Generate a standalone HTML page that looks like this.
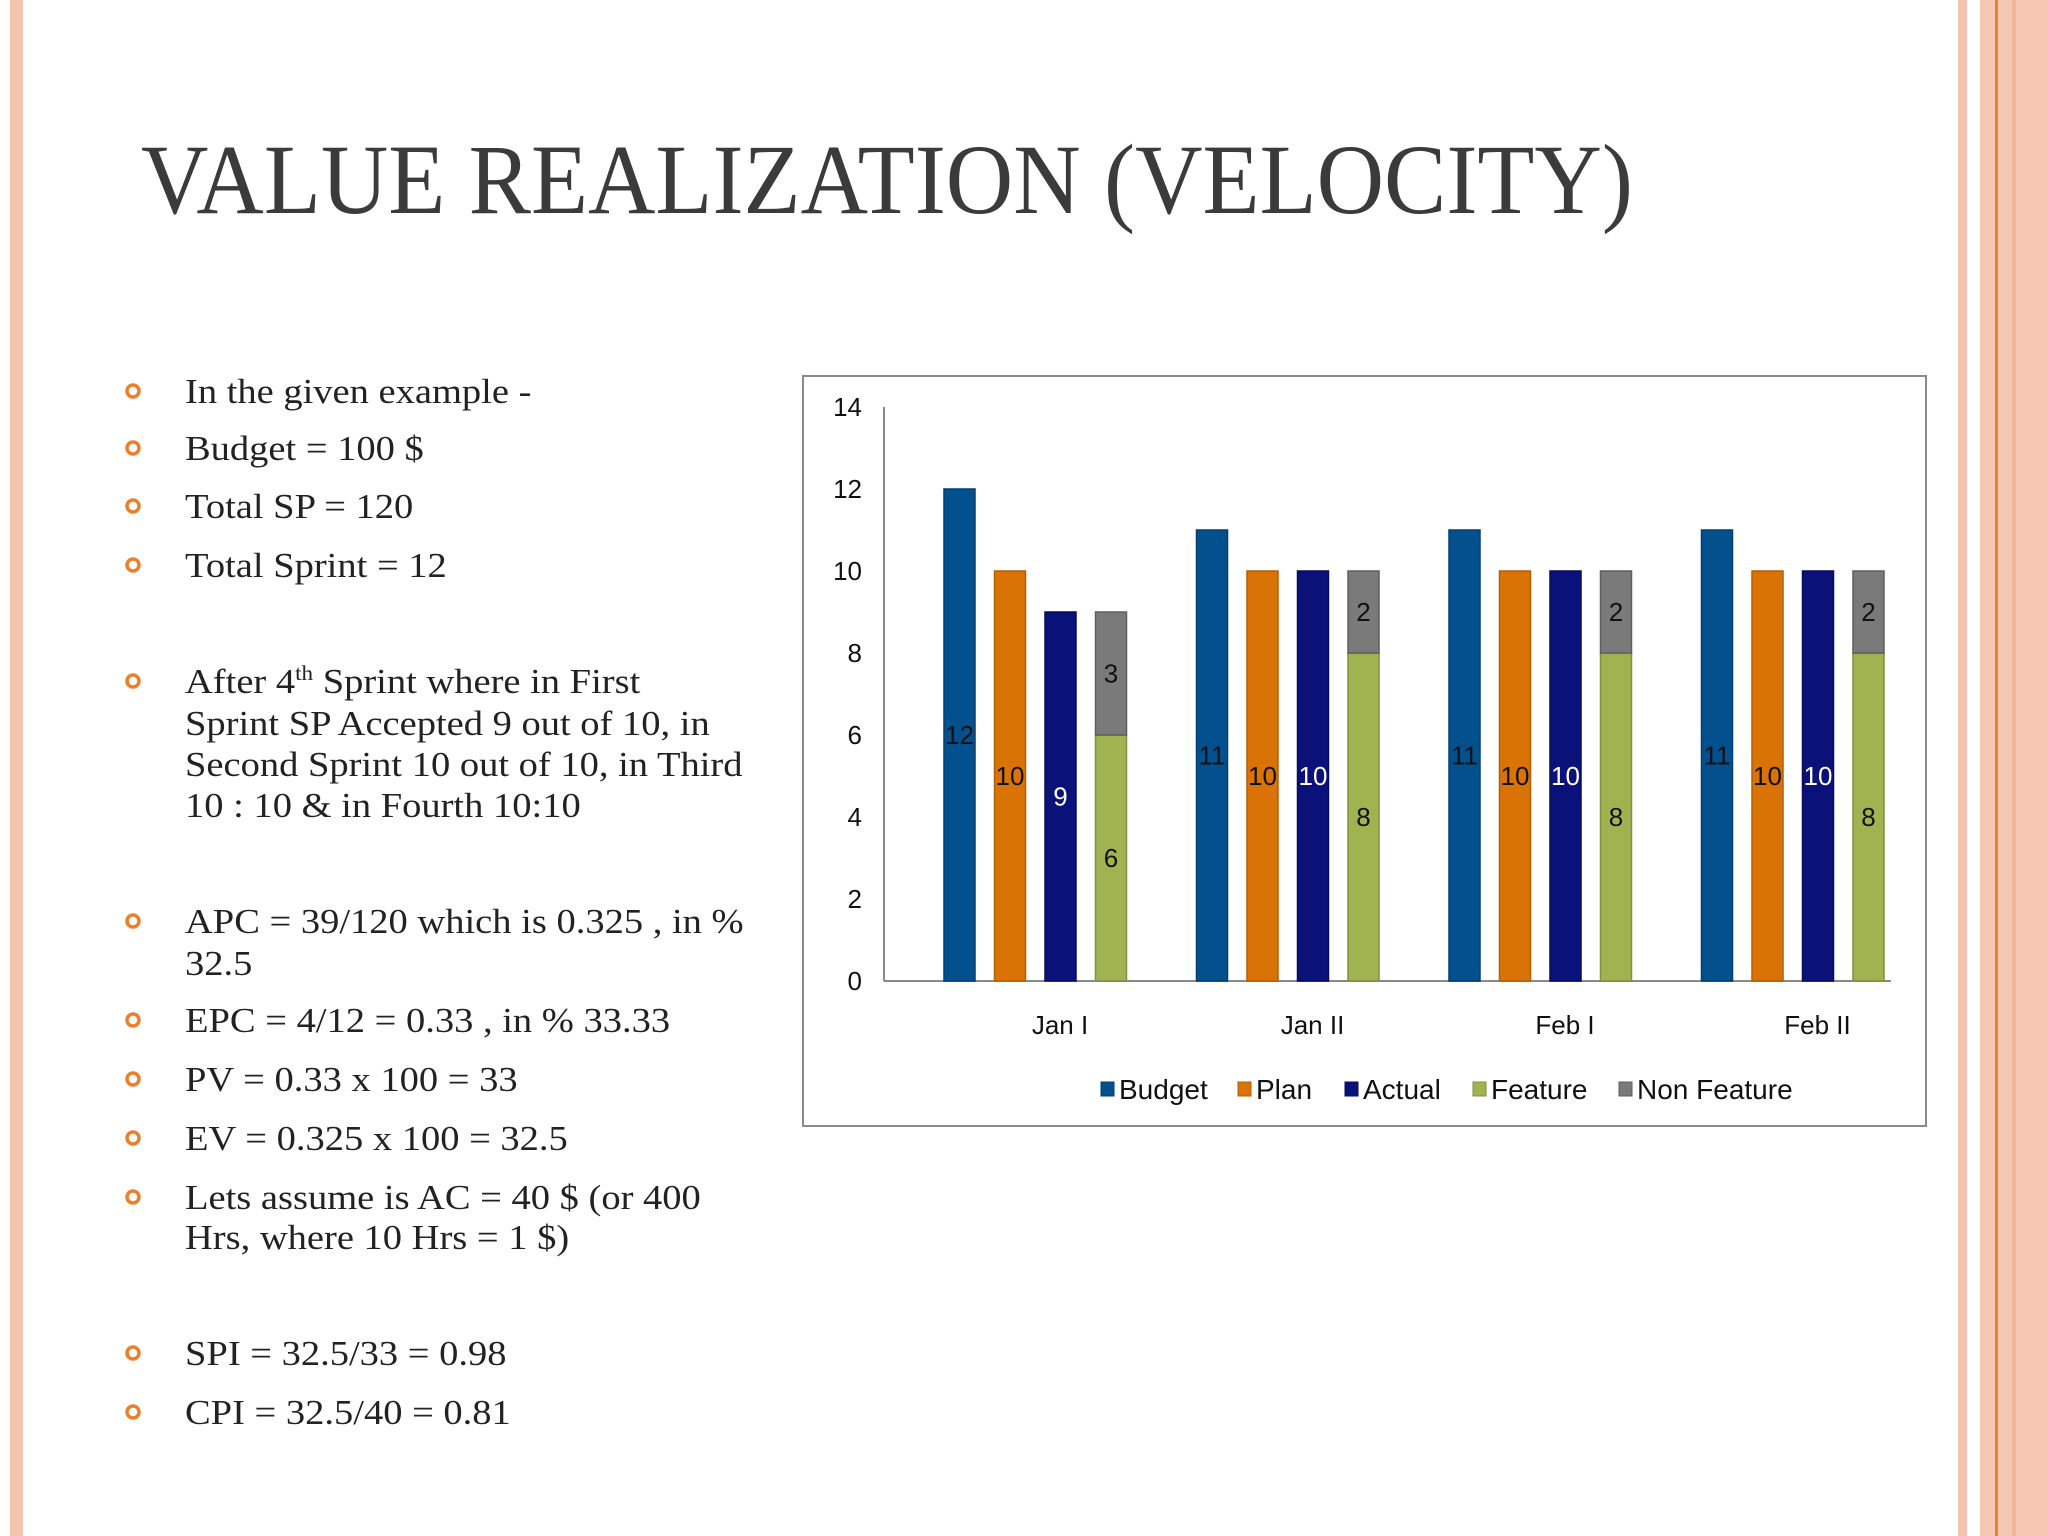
<!DOCTYPE html>
<html><head><meta charset="utf-8"><style>
html,body{margin:0;padding:0;background:#fff;}
svg{display:block;}
</style></head><body>
<svg id="s" width="2048" height="1536" viewBox="0 0 2048 1536" xmlns="http://www.w3.org/2000/svg">
<rect width="2048" height="1536" fill="#fff"/>
<rect x="10" y="0" width="13" height="1536" fill="#f5c4af"/>
<rect x="1958" y="0" width="9" height="1536" fill="#f5c4af"/>
<rect x="1980" y="0" width="68" height="1536" fill="#f5c6b2"/>
<rect x="1995" y="0" width="3" height="1536" fill="#ec7f2c"/>
<rect x="2012" y="0" width="4" height="1536" fill="#f1b89a"/>
<text x="141" y="213" font-family="Liberation Serif, serif" font-size="100" fill="#3b3b3b" textLength="1492" lengthAdjust="spacingAndGlyphs">VALUE REALIZATION (VELOCITY)</text>
<g id="body" font-family="Liberation Serif, serif" font-size="35" fill="#222"></g>
<rect x="803" y="376" width="1123" height="750" fill="#fff" stroke="#8a8a8a" stroke-width="2"/>
<g id="chart" font-family="Liberation Sans, sans-serif"></g>
</svg>
<script>
var NS='http://www.w3.org/2000/svg';
var categories=['Jan I','Jan II','Feb I','Feb II'];
var budget=[12,11,11,11];
var plan=[10,10,10,10];
var actual=[9,10,10,10];
var feature=[6,8,8,8];
var nonFeature=[3,2,2,2];
var yTicks=[0,2,4,6,8,10,12,14];
var seriesNames=['Budget','Plan','Actual','Feature','Non Feature'];
var colors=['#02508e','#d97305','#0a1178','#9fb450','#7a7a7a'];
var strokes=['#023f70','#b35f04','#060c5a','#7f9040','#5e5e5e'];
var labelColors=['#111','#111','#fff','#111','#111'];

var lines=[
 [403,'In the given example -',1],[460,'Budget = 100 $',1],[518,'Total SP = 120',1],[577,'Total Sprint = 12',1],
 [693,'After 4|th| Sprint where in First',1],[735,'Sprint SP Accepted 9 out of 10, in',0],[776,'Second Sprint 10 out of 10, in Third',0],[817,'10 : 10 & in Fourth 10:10',0],
 [933,'APC = 39/120 which is 0.325 , in %',1],[975,'32.5',0],[1032,'EPC = 4/12 = 0.33 , in % 33.33',1],[1091,'PV = 0.33 x 100 = 33',1],[1150,'EV = 0.325 x 100 = 32.5',1],[1209,'Lets assume is AC = 40 $ (or 400',1],[1249,'Hrs, where 10 Hrs = 1 $)',0],
 [1365,'SPI = 32.5/33 = 0.98',1],[1424,'CPI = 32.5/40 = 0.81',1]
];
function el(tag,attrs,parent){var e=document.createElementNS(NS,tag);for(var k in attrs)e.setAttribute(k,attrs[k]);parent.appendChild(e);return e;}
var body=document.getElementById('body');
lines.forEach(function(l){
  if(l[2]){var c=el('circle',{cx:133,cy:l[0]-12,r:6,fill:'none',stroke:'#ec7f2c','stroke-width':3.5},body);
    
    }
  var t=el('text',{x:185,y:l[0]},body);
  
  
  var parts=l[1].split('|');
  parts.forEach(function(p,i){var ts=el('tspan',{},t);ts.textContent=p;
    if(i==1){ts.setAttribute('font-size','21');ts.setAttribute('dy','-13');}
    if(i==2){ts.setAttribute('dy','13');}});
  var w=t.getComputedTextLength();
  t.setAttribute('textLength',(w*1.1).toFixed(1));
  t.setAttribute('lengthAdjust','spacingAndGlyphs');
});

var chart=document.getElementById('chart');
var y0=981, unit=41, axisX=884, axisRight=1891;
function Y(v){return y0-v*unit;}
var groupStart=944, groupStep=252.5, barStep=50.5, barW=31;
function X(i,j){return groupStart+i*groupStep+j*barStep;}
var ax=el('line',{x1:axisX,y1:Y(14),x2:axisX,y2:y0,stroke:'#8a8a8a','stroke-width':2},chart);


var bx=el('line',{x1:axisX,y1:y0,x2:axisRight,y2:y0,stroke:'#8a8a8a','stroke-width':2},chart);


yTicks.forEach(function(v){
  var t=el('text',{x:862,y:Y(v)+9,'text-anchor':'end','font-size':26,fill:'#111'},chart);
  t.textContent=v;
  
  
});
categories.forEach(function(c,i){
  var t=el('text',{x:1060+i*groupStep,y:1034,'text-anchor':'middle','font-size':26,fill:'#111'},chart);
  t.textContent=c;
  
  
});
function bar(i,j,lo,hi,s,label){
  var r=el('rect',{x:X(i,j),y:Y(hi),width:barW,height:Y(lo)-Y(hi),fill:colors[s],stroke:strokes[s],'stroke-width':1.5},chart);
  
  
  var t=el('text',{x:X(i,j)+barW/2,y:(Y(lo)+Y(hi))/2+9,'text-anchor':'middle','font-size':26,fill:labelColors[s]},chart);
  t.textContent=label;
  
  
}
categories.forEach(function(c,i){
  bar(i,0,0,budget[i],0,budget[i]);
  bar(i,1,0,plan[i],1,plan[i]);
  bar(i,2,0,actual[i],2,actual[i]);
  bar(i,3,0,feature[i],3,feature[i]);
  bar(i,3,feature[i],feature[i]+nonFeature[i],4,nonFeature[i]);
});
var legX=[1101,1238,1345,1473,1619];
seriesNames.forEach(function(n,s){
  var g=el('g',{},chart);
  
  
  el('rect',{x:legX[s],y:1082,width:13,height:14,fill:colors[s],stroke:strokes[s],'stroke-width':1},g);
  var t=el('text',{x:legX[s]+18,y:1099,'font-size':28,fill:'#111'},g);
  t.textContent=n;
});
</script>
</body></html>
